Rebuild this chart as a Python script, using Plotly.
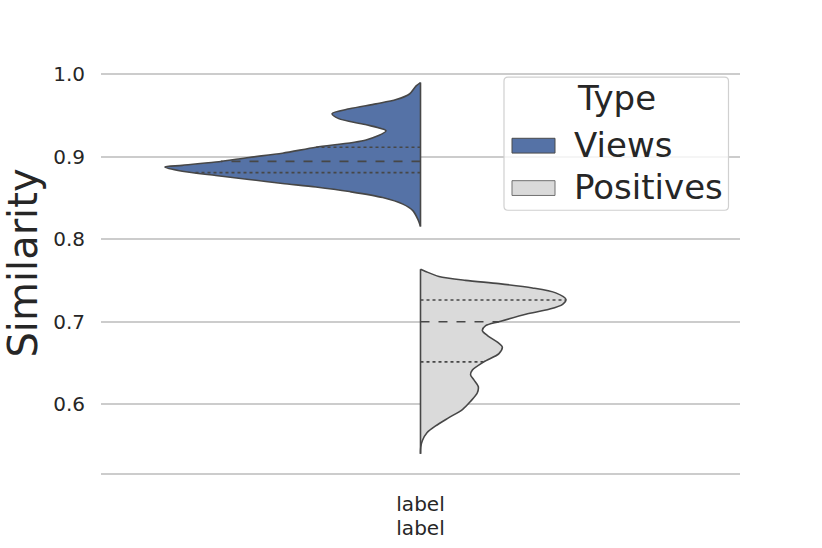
import numpy as np
import plotly.graph_objects as go

# ---- data ----
categories = ["label"]
types = ["Views", "Positives"]
legend_title = "Type"

# Views density profile (similarity level, relative density; peak = 1)
views_y = [0.9900, 0.9860, 0.9761, 0.9693, 0.9641, 0.9581, 0.9522, 0.9462, 0.9390, 0.9314,
           0.9203, 0.9115, 0.9043, 0.8991, 0.8935, 0.8895, 0.8876, 0.8824, 0.8772, 0.8724,
           0.8676, 0.8633, 0.8577, 0.8505, 0.8425, 0.8346, 0.8245, 0.8154]
views_dens = [0.000, 0.017, 0.043, 0.095, 0.174, 0.278, 0.346, 0.320, 0.216, 0.135,
              0.213, 0.409, 0.540, 0.671, 0.801, 0.932, 1.000, 0.932, 0.801, 0.671,
              0.540, 0.409, 0.278, 0.148, 0.069, 0.030, 0.011, 0.000]
views_quartiles = [0.8807, 0.8944, 0.9115]

# Positives density profile
pos_y = [0.7635, 0.7608, 0.7548, 0.7500, 0.7460, 0.7408, 0.7348, 0.7269, 0.7209, 0.7149,
         0.7089, 0.6998, 0.6950, 0.6890, 0.6830, 0.6750, 0.6691, 0.6611, 0.6511, 0.6411,
         0.6352, 0.6292, 0.6212, 0.6133, 0.6033, 0.5933, 0.5834, 0.5734, 0.5654, 0.5554,
         0.5475, 0.5395]
pos_dens = [0.000, 0.020, 0.072, 0.176, 0.307, 0.438, 0.529, 0.569, 0.556, 0.503,
            0.412, 0.307, 0.255, 0.242, 0.262, 0.301, 0.320, 0.307, 0.248, 0.203,
            0.196, 0.209, 0.226, 0.222, 0.196, 0.164, 0.111, 0.059, 0.026, 0.007,
            0.001, 0.000]
pos_quartiles = [0.6511, 0.6998, 0.7261]

y_ticks = [0.6, 0.7, 0.8, 0.9, 1.0]

# ---- styling ----
FONT = "DejaVu Sans"
TXT = "#262626"
EDGE = "#474747"
colors = {"Views": "#5572a6", "Positives": "#dadada"}
patch_edge = {"Views": "#4a4a4a", "Positives": "#707070"}
HALF = 0.4  # half of violin width (seaborn width=0.8)

W, H = 822, 548
ML, MR, MT, MB = 101, 82, 53, 69
PW, PH = W - ML - MR, H - MT - MB


def px_x(p):
    return (p - ML) / PW


def px_y(p):
    return (H - MB - p) / PH


fig = go.Figure()
center = 0  # position of category "label"

profiles = {
    "Views": (views_y, views_dens, views_quartiles, -1),
    "Positives": (pos_y, pos_dens, pos_quartiles, 1),
}

for name in types:
    ys, dens, quarts, side = profiles[name]
    ys = np.array(ys)
    dens = np.array(dens)
    xs = center + side * dens * HALF
    fig.add_trace(go.Scatter(
        x=xs, y=ys, mode="lines", fill="toself", fillcolor=colors[name],
        line=dict(color=EDGE, width=1.6, shape="spline", smoothing=0.8),
        name=name, hoverinfo="skip", showlegend=False))
    fig.add_trace(go.Scatter(
        x=[center, center], y=[ys.min(), ys.max()], mode="lines",
        line=dict(color=EDGE, width=1.6), showlegend=False, hoverinfo="skip"))
    order = np.argsort(ys)
    for i, q in enumerate(quarts):
        d = np.interp(q, ys[order], dens[order])
        fig.add_trace(go.Scatter(
            x=[center, center + side * d * HALF], y=[q, q], mode="lines",
            line=dict(color=EDGE, width=1.6, dash="dash" if i == 1 else "dot"),
            showlegend=False, hoverinfo="skip"))

# ---- legend box (drawn manually to match the wide patches) ----
bx0, bx1, by0, by1, r = 504, 728.5, 77.5, 212.5, 4
rx, ry = r / PW, r / PH
X0, X1, Y0, Y1 = px_x(bx0), px_x(bx1), px_y(by0), px_y(by1)
path = (f"M{X0+rx},{Y0} L{X1-rx},{Y0} Q{X1},{Y0} {X1},{Y0-ry} "
        f"L{X1},{Y1+ry} Q{X1},{Y1} {X1-rx},{Y1} L{X0+rx},{Y1} "
        f"Q{X0},{Y1} {X0},{Y1+ry} L{X0},{Y0-ry} Q{X0},{Y0} {X0+rx},{Y0} Z")
fig.add_shape(type="path", path=path, xref="paper", yref="paper", layer="above",
              fillcolor="rgba(255,255,255,0.8)", line=dict(color="#d0d0d0", width=1.2))

fig.add_annotation(text=legend_title, x=px_x((bx0 + bx1) / 2), y=px_y(99),
                   xref="paper", yref="paper", xanchor="center", yanchor="middle",
                   showarrow=False, font=dict(family=FONT, size=34, color=TXT))
row_y = {"Views": 146, "Positives": 189}
for name in types:
    cy = row_y[name]
    fig.add_shape(type="rect", xref="paper", yref="paper", layer="above",
                  x0=px_x(512), x1=px_x(555), y0=px_y(cy - 7.5 + 1), y1=px_y(cy + 7.5 + 1),
                  fillcolor=colors[name], line=dict(color=patch_edge[name], width=1))
    fig.add_annotation(text=name, x=px_x(572), y=px_y(cy), xref="paper", yref="paper",
                       xanchor="left", yanchor="middle", showarrow=False,
                       font=dict(family=FONT, size=34, color=TXT))

fig.update_layout(
    width=W, height=H,
    margin=dict(l=ML, r=MR, t=MT, b=MB),
    paper_bgcolor="white", plot_bgcolor="white",
    font=dict(family=FONT, color=TXT, size=20),
    showlegend=False,
)
fig.update_xaxes(
    range=[-0.5, 0.5], tickmode="array", tickvals=list(range(len(categories))),
    ticktext=categories, showgrid=False, zeroline=False,
    showline=True, linecolor="#cccccc", linewidth=1.6,
    ticks="outside", ticklen=12, tickcolor="rgba(0,0,0,0)",
    tickfont=dict(size=20, color=TXT),
    title=dict(text="label", font=dict(size=20, color=TXT), standoff=6),
)
fig.update_yaxes(
    range=[0.51627, 0.51627 + PH / 836], tickmode="array", tickvals=y_ticks,
    ticktext=[f"{v:.1f}" for v in y_ticks],
    showgrid=True, gridcolor="#cccccc", gridwidth=1.6, zeroline=False, showline=False,
    ticks="outside", ticklen=11, tickcolor="rgba(0,0,0,0)",
    tickfont=dict(size=20, color=TXT),
    title=dict(text="Similarity", font=dict(size=40, color=TXT), standoff=8),
)

fig.write_html("out.html", config={"displayModeBar": False},
               post_script="document.body.style.margin='0';")
